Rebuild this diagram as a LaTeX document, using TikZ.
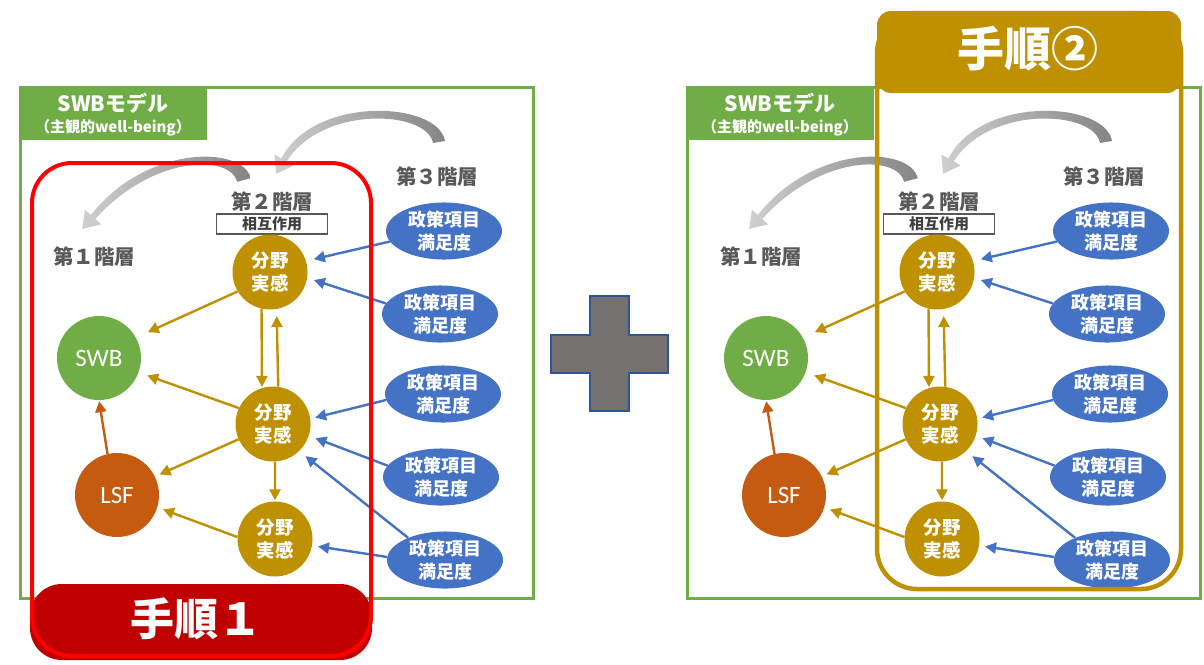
\documentclass[tikz,border=0pt]{standalone}
\usepackage{fontspec}
\usetikzlibrary{shapes.geometric,arrows.meta}
\newfontfamily\jpfont{Noto Sans CJK JP}
\newfontfamily\latinfont{Carlito}

\definecolor{swbgreen}{HTML}{70AD47}
\definecolor{fieldgold}{HTML}{BF9000}
\definecolor{policyblue}{HTML}{4472C4}
\definecolor{lsforange}{HTML}{C55A11}
\definecolor{labelgray}{HTML}{595959}
\definecolor{tagtext}{HTML}{404040}
\definecolor{stepred}{HTML}{FF0000}
\definecolor{stepdark}{HTML}{C00000}
\definecolor{plusfill}{HTML}{767171}
\definecolor{plusedge}{HTML}{2F5597}
\definecolor{curvelight}{HTML}{CFCFCF}
\definecolor{curvedark}{HTML}{858585}

\tikzset{
  frame/.style={draw=swbgreen, line width=3pt},
  hdr/.style={text=white, inner sep=0, font=\jpfont\bfseries\fontsize{21}{21}\selectfont},
  hdrsub/.style={text=white, inner sep=0, font=\jpfont\bfseries\fontsize{15}{15}\selectfont},
  lvl/.style={text=labelgray, inner sep=0, font=\jpfont\bfseries\fontsize{20.5}{20.5}\selectfont},
  tagbox/.style={draw=labelgray, fill=white, line width=1.5pt, minimum width=111pt,
    minimum height=20pt, inner sep=0, text=tagtext,
    font=\jpfont\bfseries\fontsize{15}{15}\selectfont},
  field/.style={circle, fill=fieldgold, text=white, minimum size=75pt, inner sep=0,
    align=center, font=\jpfont\bfseries\fontsize{18.5}{23}\selectfont},
  policy/.style={ellipse, fill=policyblue, text=white, minimum width=116pt,
    minimum height=57pt, inner sep=0, align=center,
    font=\jpfont\bfseries\fontsize{18}{23}\selectfont},
  outcome/.style={circle, minimum size=84pt, inner sep=0, text=white,
    font=\latinfont\fontsize{25}{25}\selectfont},
  tipped/.style={-{Triangle[length=11pt,width=11pt]}, line width=2.4pt},
  goldarrow/.style={tipped, draw=fieldgold, fill=fieldgold},
  bluearrow/.style={tipped, draw=policyblue, fill=policyblue},
  orangearrow/.style={tipped, draw=lsforange, fill=lsforange},
  curvearrow/.style={left color=curvelight, right color=curvedark},
}

% One SWB model panel; #1 prefixes the node names
\newcommand\swbpanel[1]{%
  \draw[frame] (20,87) rectangle (533,598);
  \fill[swbgreen] (20,87) rectangle (207,140);
  \node[hdr] (#1title) at (113,103) {SWBモデル};
  \node[hdrsub] (#1sub) at (113,128) {（主観的well-being）};
  % curved arrows between the layers
  \shade[curvearrow] (445,141) .. controls (438,101) and (314,95) .. (281.4,158.5)
    -- (274.4,154.6) -- (276.1,173.9) -- (293.6,165.4) -- (286.6,161.5)
    .. controls (322,105) and (427,110) .. (433,143) -- cycle;
  \shade[curvearrow] (250.8,178.2) .. controls (242,145) and (146,145) .. (90.8,215.0)
    -- (84.9,209.6) -- (82.2,228.8) -- (101.1,224.4) -- (95.2,219.0)
    .. controls (153,155) and (230,154) .. (237.2,181.8) -- cycle;
  % layer labels
  \node[lvl] (#1lv1) at (94,257) {第１階層};
  \node[lvl] (#1lv2) at (272,202) {第２階層};
  \node[lvl] (#1lv3) at (437,177) {第３階層};
  \node[tagbox] (#1tag) at (272,224) {相互作用};
  % nodes
  \node[outcome, fill=swbgreen] (#1swb) at (99,358) {SWB};
  \node[outcome, fill=lsforange] (#1lsf) at (117,495) {LSF};
  \node[field] (#1fa) at (270,272) {分野\\実感};
  \node[field] (#1fb) at (273,424) {分野\\実感};
  \node[field] (#1fc) at (275,539) {分野\\実感};
  \node[policy] (#1pa) at (444,231) {政策項目\\満足度};
  \node[policy] (#1pb) at (440,314) {政策項目\\満足度};
  \node[policy] (#1pc) at (443,394) {政策項目\\満足度};
  \node[policy] (#1pd) at (441,477) {政策項目\\満足度};
  \node[policy] (#1pe) at (445,560) {政策項目\\満足度};
  % field satisfaction links
  \draw[goldarrow, shorten >=13pt] (#1fa.211) -- (#1swb.29);
  \draw[goldarrow, shorten >=9pt] (#1fb.155) -- (#1swb.340);
  \draw[goldarrow, shorten >=1pt] (#1fa.257) -- (#1fb.107);
  \draw[goldarrow, shorten >=7pt] (#1fb.82) -- (#1fa.280);
  \draw[goldarrow, shorten >=5pt] (#1fb.204) -- (#1lsf.26);
  \draw[goldarrow, shorten >=1pt] (#1fb.273) -- (#1fc.90);
  \draw[goldarrow, shorten >=6pt] (#1fc.177) -- (#1lsf.343);
  \draw[orangearrow, shorten >=1pt] (#1lsf.103) -- (#1swb.270);
  % policy satisfaction links
  \draw[bluearrow, shorten >=8pt] (#1pa.191) -- (#1fa.17);
  \draw[bluearrow, shorten >=7pt] (#1pb.169) -- (#1fa.351);
  \draw[bluearrow, shorten >=5pt] (#1pc.186) -- (#1fb.8);
  \draw[bluearrow, shorten >=7pt] (#1pd.168) -- (#1fb.342);
  \draw[bluearrow, shorten >=8pt] (#1pe.149) -- (#1fb.314);
  \draw[bluearrow, shorten >=6pt] (#1pe.177) -- (#1fc.350);
}

\begin{document}
\begin{tikzpicture}[x=1pt, y=-1pt]
  \useasboundingbox (0,0) rectangle (1204,664);
  \fill[white] (0,0) rectangle (1204,664);

  % left panel with step 1
  \swbpanel{L}
  \fill[stepdark, rounded corners=32pt] (30,584) rectangle (372,660);
  \draw[stepred, line width=4pt, rounded corners=40pt] (32,163) rectangle (371,656);
  \node[text=white, inner sep=0, font=\jpfont\bfseries\fontsize{44}{44}\selectfont]
    (stepone) at (196,619) {手順１};

  % plus sign
  \filldraw[fill=plusfill, draw=plusedge, line width=2pt]
    (590,296) -- (629,296) -- (629,335) -- (668,335) -- (668,373) -- (629,373)
    -- (629,411) -- (590,411) -- (590,373) -- (551,373) -- (551,335) -- (590,335) -- cycle;

  % right panel with step 2
  \begin{scope}[xshift=667pt]
    \swbpanel{R}
  \end{scope}
  \draw[fieldgold, line width=4.5pt, rounded corners=40pt] (877,13) rectangle (1181,589);
  \fill[fieldgold, rounded corners=14pt] (877,11) rectangle (1181,93);
  \node[text=white, inner sep=0, font=\jpfont\bfseries\fontsize{47}{47}\selectfont]
    (steptwo) at (1028,49) {手順②};
\end{tikzpicture}
\end{document}
